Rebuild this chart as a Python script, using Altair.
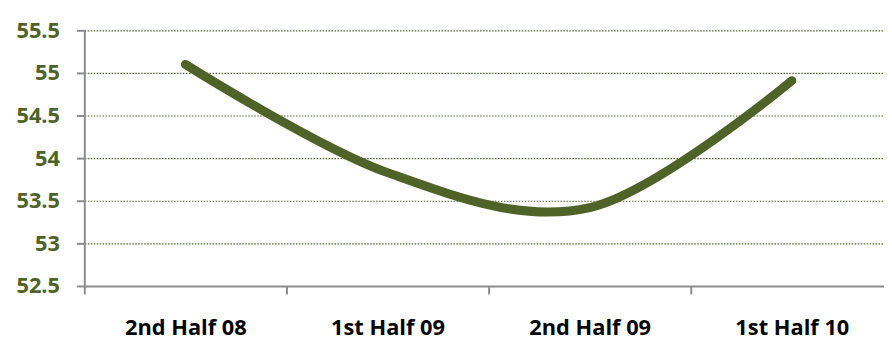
import altair as alt
import pandas as pd

periods = ["2nd Half 08", "1st Half 09", "2nd Half 09", "1st Half 10"]
values = [55.1, 53.83, 53.42, 54.91]
y_ticks = [52.5, 53, 53.5, 54, 54.5, 55, 55.5]

df = pd.DataFrame({"period": periods, "value": values})

olive = "#4F6228"
gray = "#8C8C8C"
font = "Open Sans"

chart = alt.Chart(df).mark_line(
    interpolate="cardinal",
    tension=0,
    color=olive,
    strokeWidth=9,
    strokeCap="round",
    strokeJoin="round",
).encode(
    x=alt.X(
        "period:N",
        sort=periods,
        scale=alt.Scale(type="band", paddingInner=0, paddingOuter=0, range=[0, 816]),
        axis=alt.Axis(
            title=None,
            labelAngle=0,
            labelFont=font,
            labelFontSize=22,
            labelFontWeight="bold",
            labelColor="#000000",
            labelPadding=24,
            labelBaseline="top",
            tickBand="extent",
            tickSize=8,
            tickColor=gray,
            tickWidth=2,
            domainColor=gray,
            domainWidth=2,
            grid=False,
        ),
    ),
    y=alt.Y(
        "value:Q",
        scale=alt.Scale(domain=[52.5, 55.5], nice=False, zero=False),
        axis=alt.Axis(
            title=None,
            values=y_ticks,
            format=".1~f",
            labelFont=font,
            labelFontSize=22,
            labelFontWeight="bold",
            labelColor=olive,
            labelPadding=17,
            tickSize=8,
            tickColor=gray,
            tickWidth=2,
            domainColor=gray,
            domainWidth=2,
            grid=True,
            gridColor=olive,
            gridDash=[1.5, 1.5],
            gridWidth=1.2,
        ),
    ),
).properties(
    width=807,
    height=258,
    autosize=alt.AutoSizeParams(type="none"),
    padding={"left": 77, "top": 21, "right": 0, "bottom": 53},
).configure_view(stroke=None)

chart.save("out.html", embed_options={"renderer": "svg", "actions": False})
